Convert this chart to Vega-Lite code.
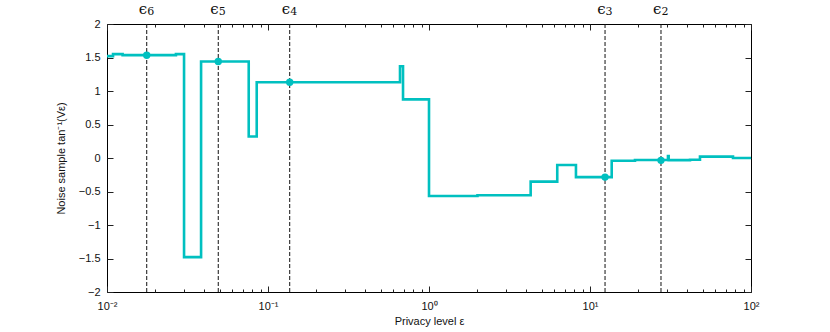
{
  "$schema": "https://vega.github.io/schema/vega-lite/v6.json",
  "width": 644,
  "height": 268,
  "autosize": {"type": "none"},
  "padding": {"left": 107, "top": 24, "right": 79, "bottom": 40},
  "background": "white",
  "config": {
    "view": {"stroke": "black", "strokeWidth": 1},
    "font": "Liberation Sans",
    "axis": {
      "domain": false,
      "grid": false,
      "ticks": true,
      "zindex": 1,
      "labelFont": "Liberation Sans",
      "labelFontSize": 11,
      "labelColor": "#111",
      "titleFont": "Liberation Sans",
      "titleFontSize": 11,
      "titleFontWeight": "normal",
      "titleColor": "#111",
      "tickColor": "#222",
      "tickWidth": 1
    }
  },
  "datasets": {
    "curve": [
      {"eps": 0.01, "v": 1.52},
      {"eps": 0.0109, "v": 1.55},
      {"eps": 0.0125, "v": 1.535},
      {"eps": 0.0268, "v": 1.55},
      {"eps": 0.0301, "v": -1.48},
      {"eps": 0.0384, "v": 1.44},
      {"eps": 0.0759, "v": 0.32},
      {"eps": 0.0851, "v": 1.13},
      {"eps": 0.6605, "v": 1.37},
      {"eps": 0.6897, "v": 0.875},
      {"eps": 1.0, "v": -0.567},
      {"eps": 2.0, "v": -0.555},
      {"eps": 4.28, "v": -0.353},
      {"eps": 6.26, "v": -0.104},
      {"eps": 8.18, "v": -0.285},
      {"eps": 13.64, "v": -0.04},
      {"eps": 19.03, "v": -0.03},
      {"eps": 30.5, "v": 0.03},
      {"eps": 30.8, "v": -0.032},
      {"eps": 41.8, "v": -0.025},
      {"eps": 48.2, "v": 0.02},
      {"eps": 77.3, "v": 0.0},
      {"eps": 100, "v": 0.0}
    ],
    "marks": [
      {"eps": 0.01765, "v": 1.533, "name": "6"},
      {"eps": 0.0491, "v": 1.44, "name": "5"},
      {"eps": 0.1364, "v": 1.13, "name": "4"},
      {"eps": 12.4, "v": -0.285, "name": "3"},
      {"eps": 27.6, "v": -0.035, "name": "2"}
    ]
  },
  "layer": [
    {
      "data": {"name": "curve"},
      "mark": {"type": "line", "interpolate": "step-after", "color": "#00C0C0", "strokeWidth": 2.6},
      "encoding": {
        "x": {
          "field": "eps", "type": "quantitative",
          "scale": {"type": "log", "domain": [0.01, 100], "nice": false},
          "axis": {
            "orient": "bottom",
            "offset": -6,
            "tickSize": 6,
            "title": "Privacy level ε",
            "titlePadding": 4,
            "values": [0.01, 0.1, 1, 10, 100],
            "labelExpr": "datum.value == 0.01 ? '10⁻²' : datum.value == 0.1 ? '10⁻¹' : datum.value == 1 ? '10⁰' : datum.value == 10 ? '10¹' : '10²'",
            "labelPadding": 8,
            "labelFlush": false,
            "labelOverlap": false
          }
        },
        "y": {
          "field": "v", "type": "quantitative",
          "scale": {"domain": [-2, 2], "nice": false, "zero": false},
          "axis": {
            "orient": "left",
            "offset": -6,
            "tickSize": 6,
            "title": "Noise sample tan⁻¹(Vε)",
            "values": [-2, -1.5, -1, -0.5, 0, 0.5, 1, 1.5, 2],
            "format": "~g",
            "labelPadding": 7,
            "titlePadding": 12
          }
        }
      }
    },
    {
      "data": {"name": "marks"},
      "mark": {"type": "rule", "color": "#111", "strokeWidth": 1, "strokeDash": [4, 2]},
      "encoding": {
        "x": {
          "field": "eps", "type": "quantitative",
          "axis": {
            "orient": "top",
            "offset": -6,
            "tickSize": 6,
            "title": null,
            "labels": false,
            "values": [0.01, 0.1, 1, 10, 100]
          }
        }
      }
    },
    {
      "data": {"name": "marks"},
      "mark": {"type": "point", "filled": true, "opacity": 1, "color": "#00C0C0", "size": 55},
      "encoding": {
        "x": {
          "field": "eps", "type": "quantitative",
          "axis": {
            "orient": "bottom",
            "offset": -3,
            "tickSize": 3,
            "title": null,
            "labels": false,
            "values": [0.02,0.03,0.04,0.05,0.06,0.07,0.08,0.09,0.2,0.3,0.4,0.5,0.6,0.7,0.8,0.9,2,3,4,5,6,7,8,9,20,30,40,50,60,70,80,90]
          }
        },
        "y": {
          "field": "v", "type": "quantitative",
          "axis": {
            "orient": "right",
            "offset": -6,
            "tickSize": 6,
            "title": null,
            "labels": false,
            "values": [-2, -1.5, -1, -0.5, 0, 0.5, 1, 1.5, 2]
          }
        }
      }
    },
    {
      "data": {"name": "marks"},
      "mark": {"type": "text", "text": "ϵ", "font": "DejaVu Serif", "fontSize": 15, "align": "right", "baseline": "alphabetic", "dx": 0.5, "dy": -10.5, "color": "#111"},
      "encoding": {
        "x": {
          "field": "eps", "type": "quantitative",
          "axis": {
            "orient": "top",
            "offset": -3,
            "tickSize": 3,
            "title": null,
            "labels": false,
            "values": [0.02,0.03,0.04,0.05,0.06,0.07,0.08,0.09,0.2,0.3,0.4,0.5,0.6,0.7,0.8,0.9,2,3,4,5,6,7,8,9,20,30,40,50,60,70,80,90]
          }
        },
        "y": {"datum": 2, "axis": null}
      }
    },
    {
      "data": {"name": "marks"},
      "mark": {"type": "text", "font": "DejaVu Serif", "fontSize": 11, "align": "left", "baseline": "alphabetic", "dx": 0.5, "dy": -9.5, "color": "#111"},
      "encoding": {
        "x": {"field": "eps", "type": "quantitative", "axis": null},
        "y": {"datum": 2, "axis": null},
        "text": {"field": "name"}
      }
    }
  ],
  "resolve": {"axis": {"x": "independent", "y": "independent"}}
}
